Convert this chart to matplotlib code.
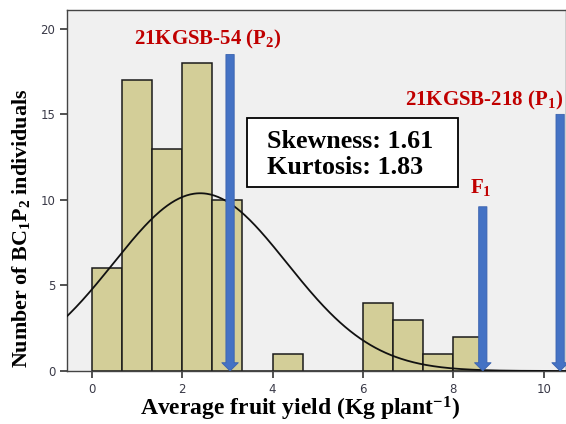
import numpy as np
import matplotlib
matplotlib.use("Agg")
import matplotlib.pyplot as plt
from matplotlib.patches import FancyArrowPatch, Rectangle

plt.rcParams["mathtext.fontset"] = "custom"
plt.rcParams["mathtext.rm"] = "Liberation Serif:bold"
plt.rcParams["mathtext.bf"] = "Liberation Serif:bold"
plt.rcParams["mathtext.it"] = "Liberation Serif:bold"

# Histogram of average fruit yield in the BC1P2 population
bin_edges = [0, 2/3, 4/3, 2, 8/3, 10/3, 4, 14/3, 16/3, 6, 20/3, 22/3, 8, 26/3]
counts = [6, 17, 13, 18, 10, 0, 1, 0, 0, 4, 3, 1, 2]

# Fitted normal curve parameters
curve_mean = 2.40
curve_sd = 1.92

# Parent / F1 reference markers
marker_labels = ["21KGSB-54 (P$_{2}$)", "F$_{1}$", "21KGSB-218 (P$_{1}$)"]
marker_x = [3.06, 8.65, 10.36]
marker_top = [18.5, 9.6, 15.0]

skewness = 1.61
kurtosis = 1.83

x_ticks = [0, 2, 4, 6, 8, 10]
y_ticks = [0, 5, 10, 15, 20]

serif = ["Liberation Serif", "DejaVu Serif"]
W, H = 566, 424


def px(x, y):
    """Pixel position (from top-left) to figure fraction."""
    return x / W, 1 - y / H


fig = plt.figure(figsize=(W / 100, H / 100), dpi=100)
ax = fig.add_axes([0.1184, 0.125, 0.8816, 0.8514])
ax.set_facecolor("#F0F0F0")

widths = np.diff(bin_edges)
ax.bar(bin_edges[:-1], counts, width=widths, align="edge",
       color="#D3CE98", edgecolor="#1a1a1a", linewidth=1.1, zorder=2)

n_total = sum(counts)
bw = widths[0]
xs = np.linspace(-0.6, 10.6, 400)
ys = n_total * bw * np.exp(-0.5 * ((xs - curve_mean) / curve_sd) ** 2) / (curve_sd * np.sqrt(2 * np.pi))
ax.plot(xs, ys, color="#111111", lw=1.3, zorder=3)

for x, top in zip(marker_x, marker_top):
    arr = FancyArrowPatch((x, top), (x, 0), arrowstyle="simple,head_length=0.7,head_width=1.4,tail_width=0.7",
                          mutation_scale=8.5, shrinkA=0, shrinkB=0,
                          facecolor="#4472C4", edgecolor="#3A62AE", lw=0.6, zorder=4)
    ax.add_patch(arr)

red = "#C00000"
label_pos = [(208, 39), (481, 188), (484, 100)]
for lab, (lx, ly) in zip(marker_labels, label_pos):
    fig.text(*px(lx, ly), lab, color=red, fontsize=15, fontweight="bold",
             family=serif, ha="center", va="center")

# Statistics box
fig.add_artist(Rectangle(px(247, 187), (458 - 247) / W, (187 - 118) / H,
                         transform=fig.transFigure, facecolor="white",
                         edgecolor="black", lw=1.3, zorder=5))
fig.text(*px(267, 148), f"Skewness: {skewness:.2f}", fontsize=18.7, fontweight="bold",
         family=serif, ha="left", va="baseline", zorder=6)
fig.text(*px(267, 174), f"Kurtosis: {kurtosis:.2f}", fontsize=18.7, fontweight="bold",
         family=serif, ha="left", va="baseline", zorder=6)

ax.set_xlim(-0.546, 10.49)
ax.set_ylim(0, 21.1)
ax.set_xticks(x_ticks)
ax.set_yticks(y_ticks)
ax.tick_params(direction="out", length=5, width=1.2, color="#333333",
               labelsize=8.5, labelcolor="#3a3a48")
for s in ax.spines.values():
    s.set_color("#444444")
    s.set_linewidth(1.0)

fig.text(*px(300, 409), "Average fruit yield (Kg plant$^{-1}$)", fontsize=17, fontweight="bold",
         family=serif, ha="center", va="center")
fig.text(*px(21, 228), "Number of BC$_{1}$P$_{2}$ individuals", fontsize=15.8, fontweight="bold",
         family=serif, ha="center", va="center", rotation=90)

fig.savefig("out.png", dpi=100)
